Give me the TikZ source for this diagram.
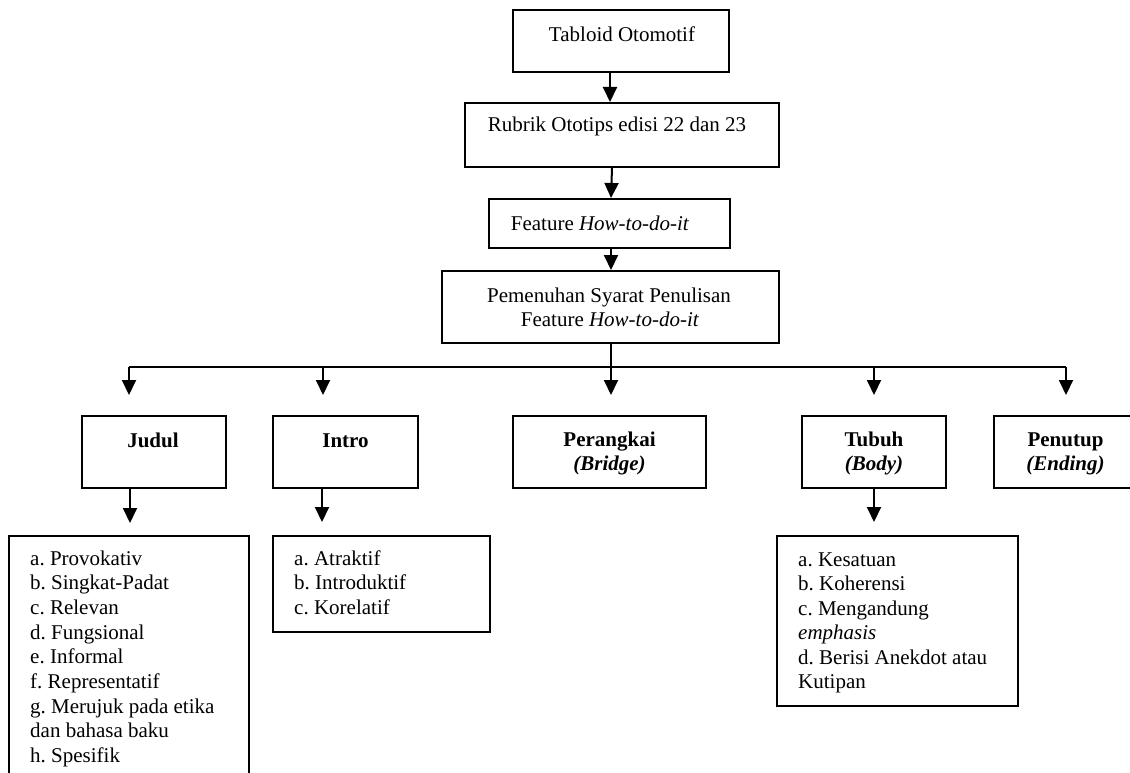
\documentclass[tikz,border=0pt]{standalone}
\usepackage{fontspec}
\setmainfont{Liberation Serif}
\usetikzlibrary{arrows.meta}
\frenchspacing

\begin{document}
\begin{tikzpicture}[x=1pt, y=-1pt,
  box/.style={rectangle, draw, line width=2pt, inner sep=0pt},
  txt/.style={inner sep=0pt, font=\fontsize{21}{24.6}\selectfont},
  head/.style={txt, font=\fontsize{21}{24.6}\selectfont\bfseries},
  arr/.style={line width=2pt, -{Triangle[width=14pt,length=15pt]}}]
\useasboundingbox (0,0) rectangle (1130,773);

% top chain
\node (tabloid) at (621,41) [box, minimum width=216pt, minimum height=62pt] {};
\node (tabloid-t) at (622,42) [txt, anchor=base] {Tabloid Otomotif};

\node (rubrik) at (622,135) [box, minimum width=314pt, minimum height=64pt] {};
\node (rubrik-t) at (617,132) [txt, anchor=base] {Rubrik Ototips edisi 22 dan 23};

\node (feature) at (609.5,223.5) [box, minimum width=241pt, minimum height=49pt] {};
\node (feature-t) at (600,230) [txt, anchor=base] {Feature \textit{How-to-do-it}};

\node (syarat) at (610.5,307) [box, minimum width=337pt, minimum height=72pt] {};
\node (syarat-t1) at (609,302) [txt, anchor=base] {Pemenuhan Syarat Penulisan};
\node (syarat-t2) at (610,326) [txt, anchor=base] {Feature \textit{How-to-do-it}};

\draw[arr] ([xshift=-11pt]tabloid.south) -- ([xshift=-12pt]rubrik.north);
\draw[arr] ([xshift=-10pt]rubrik.south) -- ([xshift=1.5pt]feature.north);
\draw[arr] ([xshift=1.5pt]feature.south) -- ([xshift=0.5pt]syarat.north);

% bus
\coordinate (b1) at (129,367);
\coordinate (b2) at (323,367);
\coordinate (b3) at (611,367);
\coordinate (b4) at (874,367);
\coordinate (b5) at (1066,367);
\draw[line width=2pt] ([xshift=0.5pt]syarat.south) -- (b3);
\draw[line width=2pt] (b1) -- (b5);
\foreach \b in {b1,b2,b3,b4,b5}
  \draw[arr] (\b) -- ++(0,28);

% second level
\node (judul) at (154,452) [box, minimum width=144pt, minimum height=72pt] {};
\node (judul-t) at (153,447) [head, anchor=base] {Judul};

\node (intro) at (345.5,452) [box, minimum width=145pt, minimum height=72pt] {};
\node (intro-t) at (345.5,447) [head, anchor=base] {Intro};

\node (perangkai) at (609.5,452) [box, minimum width=193pt, minimum height=72pt] {};
\node (perangkai-t1) at (609.5,446) [head, anchor=base] {Perangkai};
\node (perangkai-t2) at (609.5,470) [head, anchor=base] {\textit{(Bridge)}};

\node (tubuh) at (874,452) [box, minimum width=144pt, minimum height=72pt] {};
\node (tubuh-t1) at (874,446) [head, anchor=base] {Tubuh};
\node (tubuh-t2) at (874,470) [head, anchor=base] {\textit{(Body)}};

\node (penutup) at (1065.5,452) [box, minimum width=143pt, minimum height=72pt] {};
\node (penutup-t1) at (1065.5,446) [head, anchor=base] {Penutup};
\node (penutup-t2) at (1065.5,470) [head, anchor=base] {\textit{(Ending)}};

% lists
\node (judul-l) at (129,660.5) [box, minimum width=240pt, minimum height=249pt] {};
\node (intro-l) at (381.5,584) [box, minimum width=217pt, minimum height=96pt] {};
\node (tubuh-l) at (897.5,621) [box, minimum width=241pt, minimum height=170pt] {};

\coordinate (j-end) at (130,523);
\coordinate (i-end) at (322,522);
\coordinate (t-end) at (874,522);
\draw[arr] (judul.south -| j-end) -- (j-end);
\draw[arr] (intro.south -| i-end) -- (i-end);
\draw[arr] (tubuh.south -| t-end) -- (t-end);

\foreach \t [count=\i from 0] in {a. Provokativ, b. Singkat-Padat, c. Relevan,
    d. Fungsional, e. Informal, f. Representatif, g. Merujuk pada etika,
    dan bahasa baku, h. Spesifik}
  \node (judul-l\i) at (30,{565+24.7*\i}) [txt, anchor=base west] {\t};

\foreach \t [count=\i from 0] in {a. Atraktif, b. Introduktif, c. Korelatif}
  \node (intro-l\i) at (294,{565+24.6*\i}) [txt, anchor=base west] {\t};

\foreach \t [count=\i from 0] in {a. Kesatuan, b. Koherensi, c. Mengandung,
    {\textit{emphasis}}, d. Berisi Anekdot atau, Kutipan}
  \node (tubuh-l\i) at (798,{566+24.5*\i}) [txt, anchor=base west] {\t};
\end{tikzpicture}
\end{document}
